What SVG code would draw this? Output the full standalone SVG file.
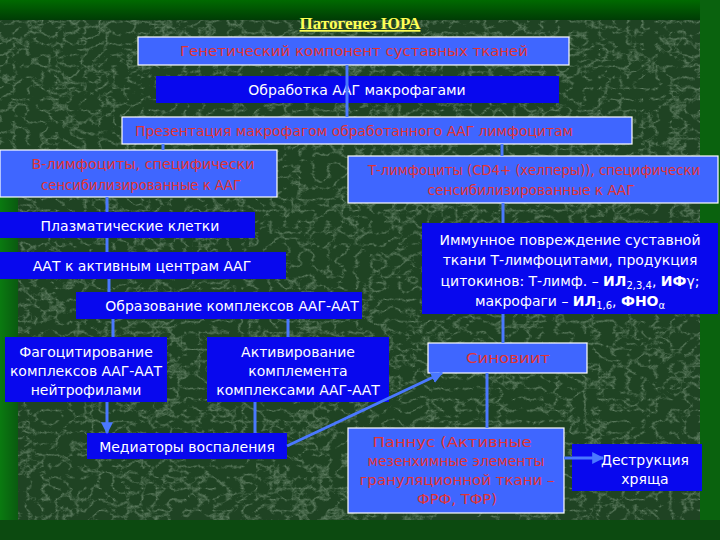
<svg xmlns="http://www.w3.org/2000/svg" width="720" height="540" viewBox="0 0 720 540">
<defs>
<filter id="tex" x="0" y="0" width="100%" height="100%">
<feTurbulence type="turbulence" baseFrequency="0.07 0.09" numOctaves="4" seed="11"/>
<feColorMatrix type="matrix" values="0 0 0 0 0.6  0 0 0 0 0.75  0 0 0 0 0.6  -2.4 0 0 0 0.7"/>
</filter>
<linearGradient id="topg" x1="0" y1="0" x2="0" y2="1">
<stop offset="0" stop-color="#006a00"/><stop offset="1" stop-color="#003c05"/>
</linearGradient>
<linearGradient id="leftg" x1="0" y1="0" x2="1" y2="0">
<stop offset="0" stop-color="#0a7a10"/><stop offset="1" stop-color="#0a5a10"/>
</linearGradient>
<marker id="ah" viewBox="0 0 10 10" refX="9" refY="5" markerWidth="4" markerHeight="4" orient="auto">
<path d="M0,0 L10,5 L0,10 z" fill="#4a78ff"/>
</marker>
<style>
.lb{fill:#3f66ff;stroke:#ffffff;stroke-width:1.2}
.db{fill:#0808ee}
.rt{fill:#e03434;font-family:"DejaVu Sans","Liberation Sans",sans-serif;font-size:14px;text-anchor:middle}
.wt{fill:#ffffff;font-family:"DejaVu Sans","Liberation Sans",sans-serif;font-size:14px;text-anchor:middle}
.b{font-weight:bold}
.sub{font-size:10px}
.cn{stroke:#4a78ff;stroke-width:3;fill:none}
</style>
</defs>
<g id="background">
<rect x="0" y="0" width="720" height="540" fill="#1f4323"/>
<rect x="0" y="0" width="720" height="540" filter="url(#tex)" opacity="0.55"/>
<rect x="0" y="0" width="720" height="20" fill="url(#topg)"/>
<rect x="0" y="150" width="18" height="390" fill="url(#leftg)"/>
<rect x="700" y="0" width="20" height="540" fill="#0a620e"/>
<rect x="0" y="520" width="720" height="20" fill="#0c4a10"/>
</g>
<g id="title">
<text x="360" y="29" font-family="'Liberation Serif',serif" font-size="17" font-weight="bold" fill="#ffff55" text-anchor="middle" text-decoration="underline">Патогенез ЮРА</text>
</g>
<g id="n1"><rect class="lb" x="138" y="37" width="431" height="28"/><text class="rt" x="354" y="56" textLength="348" lengthAdjust="spacingAndGlyphs">Генетический компонент суставных тканей</text></g>
<g id="n2"><rect class="db" x="156" y="76" width="403" height="27"/><text class="wt" x="357" y="95">Обработка ААГ макрофагами</text></g>
<g id="n3"><rect class="lb" x="122" y="117" width="510" height="27"/><text class="rt" x="354" y="136" textLength="438" lengthAdjust="spacingAndGlyphs">Презентация макрофагом обработанного ААГ лимфоцитам</text></g>
<g id="n4"><rect class="lb" x="0" y="150" width="277" height="47"/><text class="rt" x="143" y="169" textLength="223" lengthAdjust="spacingAndGlyphs">В-лимфоциты, специфически</text><text class="rt" x="141" y="190" textLength="200" lengthAdjust="spacingAndGlyphs">сенсибилизированные к ААГ</text></g>
<g id="n5"><rect class="lb" x="348" y="156" width="370" height="47"/><text class="rt" x="534" y="175" textLength="332" lengthAdjust="spacingAndGlyphs">Т-лимфоциты (CD4+ (хелперы)), специфически</text><text class="rt" x="531" y="195" textLength="207" lengthAdjust="spacingAndGlyphs">сенсибилизированные к ААГ</text></g>
<g id="n6"><rect class="db" x="0" y="212" width="255" height="26"/><text class="wt" x="130" y="231">Плазматические клетки</text></g>
<g id="n7"><rect class="db" x="0" y="252" width="286" height="27"/><text class="wt" x="142" y="271">ААТ к активным центрам ААГ</text></g>
<g id="n8"><rect class="db" x="76" y="292" width="286" height="27"/><text class="wt" x="232" y="311">Образование комплексов ААГ-ААТ</text></g>
<g id="n9"><rect class="db" x="422" y="223" width="296" height="91"/>
<text class="wt" x="570" y="245">Иммунное повреждение суставной</text>
<text class="wt" x="570" y="265">ткани Т-лимфоцитами, продукция</text>
<text class="wt" x="570" y="286">цитокинов: Т-лимф. – <tspan class="b">ИЛ</tspan><tspan class="sub" dy="3">2,3,4</tspan><tspan dy="-3">, </tspan><tspan class="b">ИФ</tspan>γ;</text>
<text class="wt" x="570" y="306">макрофаги – <tspan class="b">ИЛ</tspan><tspan class="sub" dy="3">1,6</tspan><tspan dy="-3">, </tspan><tspan class="b">ФНО</tspan><tspan class="sub" dy="3">α</tspan></text>
</g>
<g id="n10"><rect class="db" x="5" y="337" width="162" height="65"/><text class="wt" x="86" y="357">Фагоцитирование</text><text class="wt" x="86" y="376">комплексов ААГ-ААТ</text><text class="wt" x="86" y="395">нейтрофилами</text></g>
<g id="n11"><rect class="db" x="207" y="337" width="182" height="65"/><text class="wt" x="298" y="357">Активирование</text><text class="wt" x="298" y="376">комплемента</text><text class="wt" x="298" y="395">комплексами ААГ-ААТ</text></g>
<g id="n12"><rect class="db" x="87" y="433" width="200" height="26"/><text class="wt" x="187" y="452">Медиаторы воспаления</text></g>
<g id="n13"><rect class="lb" x="428" y="343" width="159" height="30"/><text class="rt" x="508" y="363" textLength="84" lengthAdjust="spacingAndGlyphs">Синовиит</text></g>
<g id="n14"><rect class="lb" x="348" y="428" width="216" height="85"/>
<text class="rt" x="452" y="447" textLength="159" lengthAdjust="spacingAndGlyphs">Паннус (Активные</text>
<text class="rt" x="456" y="466" textLength="177" lengthAdjust="spacingAndGlyphs">мезенхимные элементы</text>
<text class="rt" x="457" y="485" textLength="195" lengthAdjust="spacingAndGlyphs">грануляционной ткани –</text>
<text class="rt" x="457" y="504" textLength="80" lengthAdjust="spacingAndGlyphs">ФРФ, ТФР)</text>
</g>
<g id="n15"><rect class="db" x="572" y="444" width="130" height="47"/><text class="wt" x="645" y="465">Деструкция</text><text class="wt" x="645" y="484">хряща</text></g>
<g id="connectors">
<line class="cn" x1="347" y1="65" x2="347" y2="117"/>
<line class="cn" x1="163" y1="144" x2="163" y2="150"/>
<line class="cn" x1="502" y1="144" x2="502" y2="156"/>
<line class="cn" x1="503" y1="203" x2="503" y2="223"/>
<line class="cn" x1="107" y1="197" x2="107" y2="212"/>
<line class="cn" x1="107" y1="238" x2="107" y2="252"/>
<line class="cn" x1="109" y1="279" x2="109" y2="292"/>
<line class="cn" x1="113" y1="319" x2="113" y2="337"/>
<line class="cn" x1="288" y1="319" x2="288" y2="337"/>
<line class="cn" x1="503" y1="314" x2="503" y2="343"/>
<line class="cn" x1="107" y1="402" x2="107" y2="433" marker-end="url(#ah)"/>
<line class="cn" x1="255" y1="402" x2="255" y2="433"/>
<line class="cn" x1="287" y1="446" x2="442" y2="373" marker-end="url(#ah)"/>
<line class="cn" x1="487" y1="373" x2="487" y2="428"/>
<line class="cn" x1="564" y1="458" x2="603" y2="458" marker-end="url(#ah)"/>
</g>
</svg>
